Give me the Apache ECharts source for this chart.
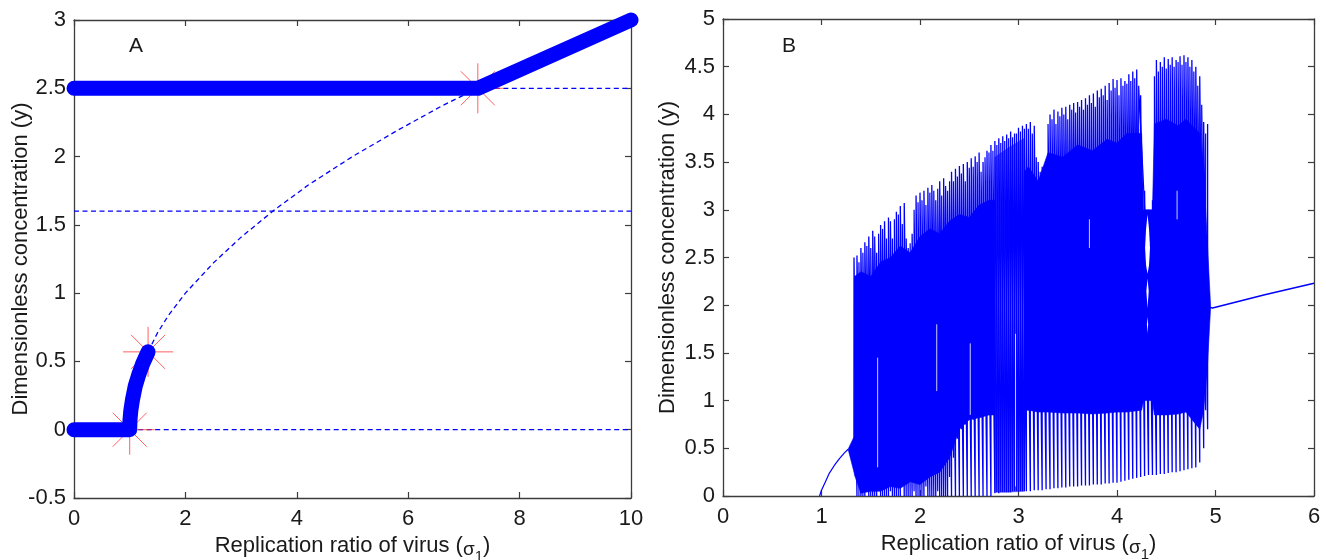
<!DOCTYPE html>
<html><head><meta charset="utf-8">
<script src="https://cdn.jsdelivr.net/npm/echarts@6/dist/echarts.min.js"></script>
<style>html,body{margin:0;padding:0;background:#fff}#c{width:1326px;height:560px}</style>
</head><body><div id="c"></div>
<script>
// ================= Panel A data =================
const aXTicks = [0, 2, 4, 6, 8, 10];
const aXLabels = ['0', '2', '4', '6', '8', '10'];
const aYTicks = [-0.5, 0, 0.5, 1, 1.5, 2, 2.5, 3];
const aYLabels = ['-0.5', '0', '0.5', '1', '1.5', '2', '2.5', '3'];
// stable branch (thick): zero branch then rising branch
const aLowX = [0, 1.0, 1.005, 1.02, 1.05, 1.1, 1.16, 1.23, 1.33];
const aLowY = [0, 0, 0.07, 0.14, 0.22, 0.32, 0.40, 0.48, 0.57];
// stable high branch (thick)
const aHighX = [0, 7.25, 10];
const aHighY = [2.5, 2.5, 3.0];
// unstable branches (dashed)
const aDashZeroX = [1.0, 10];
const aDashZeroY = [0, 0];
const aDashMidX = [0, 10];
const aDashMidY = [1.6, 1.6];
const aDashHighX = [7.25, 10];
const aDashHighY = [2.5, 2.5];
const aCurveX = [1.33, 1.5, 1.7, 2.0, 2.5, 3.0, 3.6, 4.2, 5.0, 5.8, 6.6, 7.25];
const aCurveY = [0.57, 0.71, 0.84, 1.0, 1.22, 1.41, 1.61, 1.79, 2.0, 2.19, 2.37, 2.5];
// bifurcation points (red asterisks)
const aStarX = [1.0, 1.33, 7.25];
const aStarY = [0, 0.57, 2.5];

// ================= Panel B data =================
const bXTicks = [0, 1, 2, 3, 4, 5, 6];
const bXLabels = ['0', '1', '2', '3', '4', '5', '6'];
const bYTicks = [0, 0.5, 1, 1.5, 2, 2.5, 3, 3.5, 4, 4.5, 5];
const bYLabels = ['0', '0.5', '1', '1.5', '2', '2.5', '3', '3.5', '4', '4.5', '5'];
const bPreX = [0.98, 1.0, 1.04, 1.08, 1.13, 1.18, 1.23, 1.27];
const bPreY = [0, 0.06, 0.15, 0.24, 0.32, 0.39, 0.45, 0.49];
const bPostX = [4.93, 4.97, 5.5, 6.0];
const bPostY = [1.98, 1.97, 2.11, 2.23];
// oscillation spikes, outer layer: position, maximum, minimum
const bSpikeX = [1.33, 1.36, 1.40, 1.44, 1.48, 1.52, 1.56, 1.60, 1.64, 1.68, 1.72, 1.76, 1.80, 1.84, 1.88, 1.92, 1.96,
  2.00, 2.04, 2.08, 2.12, 2.16, 2.20, 2.24, 2.28, 2.32, 2.36, 2.40, 2.44, 2.48, 2.52, 2.56, 2.60, 2.64, 2.68, 2.72,
  2.76, 2.80, 2.84, 2.88, 2.92, 2.96, 3.00, 3.04, 3.08, 3.12, 3.16, 3.20, 3.24, 3.28, 3.32, 3.36, 3.40, 3.44, 3.48,
  3.52, 3.56, 3.60, 3.64, 3.68, 3.72, 3.76, 3.80, 3.84, 3.88, 3.92, 3.96, 4.00, 4.04, 4.08, 4.12, 4.16, 4.20, 4.24,
  4.28, 4.32, 4.36, 4.40, 4.44, 4.48, 4.52, 4.56, 4.60, 4.64, 4.68, 4.72, 4.76, 4.80, 4.84, 4.88, 4.92];
const bSpikeHi = [2.50, 2.52, 2.60, 2.66, 2.72, 2.78, 2.55, 2.84, 2.88, 2.92, 2.70, 2.98, 3.04, 3.07, 2.60, 2.75, 3.15,
  3.18, 3.20, 3.23, 3.26, 3.10, 3.30, 3.33, 3.20, 3.40, 3.43, 3.46, 3.48, 3.50, 3.54, 3.56, 3.60, 3.50, 3.62, 3.68,
  3.72, 3.75, 3.77, 3.79, 3.82, 3.80, 3.86, 3.88, 3.90, 3.92, 3.88, 3.50, 3.45, 3.30, 4.00, 4.05, 4.03, 4.07, 4.08,
  4.10, 4.12, 4.13, 4.15, 4.17, 4.20, 4.22, 4.25, 4.27, 4.30, 4.33, 4.37, 4.36, 4.38, 4.35, 4.42, 4.45, 4.47, 4.20,
  3.20, 3.00, 3.10, 4.57, 4.55, 4.60, 4.58, 4.60, 4.57, 4.61, 4.62, 4.60, 4.57, 4.50, 4.40, 3.92, 3.90];
const bSpikeLo = [0.60, 0.00, 0.00, 0.00, 0.00, 0.00, 0.00, 0.00, 0.00, 0.00, 0.00, 0.00, 0.00, 0.00, 0.00, 0.00, 0.00,
  0.00, 0.00, 0.00, 0.00, 0.00, 0.00, 0.00, 0.00, 0.00, 0.00, 0.00, 0.00, 0.00, 0.00, 0.00, 0.00, 0.00, 0.00, 0.00,
  0.03, 0.03, 0.04, 0.04, 0.04, 0.05, 0.05, 0.05, 0.05, 0.05, 0.06, 0.06, 0.06, 0.07, 0.07, 0.08, 0.08, 0.09, 0.09,
  0.10, 0.10, 0.10, 0.11, 0.11, 0.11, 0.12, 0.12, 0.12, 0.13, 0.13, 0.14, 0.14, 0.15, 0.16, 0.17, 0.18, 0.19, 0.20,
  0.21, 0.22, 0.22, 0.22, 0.23, 0.23, 0.24, 0.25, 0.25, 0.26, 0.27, 0.28, 0.29, 0.30, 0.35, 0.50, 0.70];
// oscillation spikes, inner layer
const bSpike2X = [1.38, 1.42, 1.46, 1.50, 1.54, 1.58, 1.62, 1.66, 1.70, 1.74, 1.78, 1.82, 1.86, 1.90, 1.94, 1.98,
  2.02, 2.06, 2.10, 2.14, 2.18, 2.22, 2.26, 2.30, 2.34, 2.38, 2.42, 2.46, 2.50, 2.54, 2.58, 2.62, 2.66, 2.70, 2.74,
  2.78, 2.82, 2.86, 2.90, 2.94, 2.98, 3.02, 3.06, 3.10, 3.14, 3.18, 3.22, 3.26, 3.30, 3.34, 3.38, 3.42, 3.46, 3.50,
  3.54, 3.58, 3.62, 3.66, 3.70, 3.74, 3.78, 3.82, 3.86, 3.90, 3.94, 3.98, 4.02, 4.06, 4.10, 4.14, 4.18, 4.22,
  4.38, 4.42, 4.46, 4.50, 4.54, 4.58, 4.62, 4.66, 4.70, 4.74, 4.78, 4.82, 4.86, 4.90];
const bSpike2Hi = [2.45, 2.55, 2.62, 2.60, 2.72, 2.75, 2.80, 2.70, 2.88, 2.90, 2.95, 2.85, 2.70, 2.65, 3.00, 3.08,
  3.10, 3.05, 3.18, 3.20, 3.22, 3.15, 3.25, 3.30, 3.30, 3.35, 3.38, 3.30, 3.44, 3.45, 3.50, 3.40, 3.55, 3.60, 3.62,
  3.68, 3.70, 3.72, 3.75, 3.76, 3.80, 3.82, 3.85, 3.85, 3.80, 3.55, 3.40, 3.45, 3.90, 3.95, 3.90, 3.98, 4.00, 3.95,
  4.05, 4.02, 4.08, 4.05, 4.10, 4.12, 4.08, 4.18, 4.20, 4.15, 4.25, 4.28, 4.20, 4.30, 4.32, 4.35, 4.38, 4.30,
  4.40, 4.45, 4.50, 4.48, 4.52, 4.50, 4.55, 4.52, 4.55, 4.50, 4.45, 4.30, 4.10, 3.80];
const bSpike2Lo = [0.00, 0.00, 0.05, 0.00, 0.00, 0.10, 0.00, 0.00, 0.05, 0.00, 0.00, 0.10, 0.00, 0.00, 0.05, 0.00,
  0.00, 0.10, 0.00, 0.00, 0.05, 0.00, 0.00, 0.20, 0.40, 0.60, 0.70, 0.75, 0.80, 0.80, 0.82, 0.82, 0.85, 0.85, 0.85,
  0.04, 0.04, 0.04, 0.04, 0.05, 0.05, 0.05, 0.05, 0.90, 0.90, 0.90, 0.90, 0.90, 0.90, 0.90, 0.90, 0.90, 0.90, 0.90,
  0.90, 0.90, 0.90, 0.90, 0.90, 0.90, 0.90, 0.90, 0.90, 0.90, 0.90, 0.90, 0.90, 0.90, 0.90, 0.90, 0.90, 0.90,
  0.90, 0.90, 0.90, 0.90, 0.90, 0.90, 0.90, 0.90, 0.90, 0.90, 0.90, 0.90, 0.90, 0.90];
// dense cores of the oscillation band (envelope: position, top, bottom)
const bCore1X = [1.27, 1.33, 1.335, 1.40, 1.50, 1.60, 1.70, 1.80, 1.90, 2.00, 2.10, 2.20, 2.30, 2.40, 2.50, 2.60, 2.70, 2.76];
const bCore1Top = [0.49, 0.62, 2.30, 2.35, 2.30, 2.45, 2.50, 2.62, 2.55, 2.72, 2.80, 2.75, 2.88, 2.95, 2.92, 3.05, 3.10, 3.10];
const bCore1Bot = [0.49, 0.25, 0.22, 0.03, 0.05, 0.05, 0.10, 0.08, 0.15, 0.12, 0.20, 0.25, 0.40, 0.70, 0.80, 0.82, 0.85, 0.85];
const bCore2X = [2.76, 2.90, 3.06];
const bCore2Top = [3.55, 3.65, 3.75];
const bCore2Bot = [0.04, 0.04, 0.05];
const bCore3X = [3.06, 3.10, 3.20, 3.30, 3.45, 3.60, 3.75, 3.90, 4.00, 4.10, 4.25, 4.27, 4.36, 4.38, 4.50, 4.62, 4.70, 4.84, 4.88, 4.92, 4.95];
const bCore3Top = [3.40, 3.45, 3.30, 3.60, 3.55, 3.68, 3.62, 3.74, 3.70, 3.80, 3.80, 3.00, 3.00, 3.90, 3.95, 3.88, 3.95, 3.80, 3.40, 2.60, 2.00];
const bCore3Bot = [0.90, 0.90, 0.88, 0.88, 0.87, 0.87, 0.86, 0.87, 0.88, 0.88, 0.90, 1.00, 1.00, 0.85, 0.85, 0.86, 0.88, 0.70, 0.90, 1.40, 1.97];
// white openings inside the band
const bLens1 = [[4.31, 2.95], [4.325, 2.8], [4.335, 2.6], [4.325, 2.42], [4.31, 2.33], [4.295, 2.42], [4.285, 2.6], [4.295, 2.8]];
const bLens2 = [[4.31, 2.28], [4.322, 2.15], [4.31, 1.97], [4.298, 2.15]];
const bLens3 = [[4.31, 1.88], [4.316, 1.8], [4.31, 1.7], [4.304, 1.8]];
// thin white streaks inside the band: position, top, bottom
const bGapX = [1.57, 2.17, 2.51, 2.97, 3.72, 4.61];
const bGapTop = [1.45, 1.80, 1.60, 1.70, 2.90, 3.20];
const bGapBot = [0.30, 1.10, 0.85, 0.10, 2.60, 2.90];

// ================= chart =================
const FONT = 'Liberation Sans, Arial, sans-serif';
const TXT = '#1a1a1a';
const FRAME = '#3c3c3c';
const BLUE = '#0000ff';

const zip = (X, Y) => X.map((x, i) => [x, Y[i]]);
const lookup = (ticks, labels) => v => { const i = ticks.findIndex(t => Math.abs(t - v) < 1e-9); return i >= 0 ? labels[i] : ''; };

const nameRich = {
  a: { fontSize: 22, fontFamily: FONT, color: TXT, lineHeight: 24, verticalAlign: 'top' },
  g: { fontSize: 19, fontFamily: FONT, color: TXT, lineHeight: 24, verticalAlign: 'middle' },
  s: { fontSize: 15, fontFamily: FONT, color: TXT, lineHeight: 29, verticalAlign: 'bottom' }
};

function xAxis(gi, min, max, interval, pos, ticks, labels) {
  const bottom = pos === 'bottom';
  return {
    type: 'value', gridIndex: gi, min, max, interval, position: pos,
    name: bottom ? '{a|Replication ratio of virus (}{g|σ}{s|1}{a|)}' : '',
    nameLocation: 'middle', nameGap: 37, nameMoveOverlap: false, nameTextStyle: { rich: nameRich },
    axisLine: { show: true, onZero: false, lineStyle: { color: FRAME, width: 1.3 } },
    axisTick: { show: true, inside: true, length: 6, lineStyle: { color: FRAME, width: 1.2 } },
    axisLabel: { show: bottom, margin: 10, fontSize: 22, fontFamily: FONT, color: TXT,
      showMinLabel: true, showMaxLabel: true, formatter: lookup(ticks, labels) },
    splitLine: { show: false }
  };
}
function yAxis(gi, min, max, interval, pos, ticks, labels, gap) {
  const left = pos === 'left';
  return {
    type: 'value', gridIndex: gi, min, max, interval, position: pos,
    name: left ? 'Dimensionless concentration (y)' : '',
    nameLocation: 'middle', nameGap: gap, nameMoveOverlap: false,
    nameTextStyle: { fontSize: 22, fontFamily: FONT, color: TXT },
    axisLine: { show: true, onZero: false, lineStyle: { color: FRAME, width: 1.3 } },
    axisTick: { show: true, inside: true, length: 6, lineStyle: { color: FRAME, width: 1.2 } },
    axisLabel: { show: left, margin: 8, fontSize: 22, fontFamily: FONT, color: TXT,
      showMinLabel: true, showMaxLabel: true, formatter: lookup(ticks, labels) },
    splitLine: { show: false }
  };
}

function lineS(xi, yi, data, style, z) {
  return { type: 'line', xAxisIndex: xi, yAxisIndex: yi, data, symbol: 'none', silent: true,
    clip: false, z, lineStyle: style, animation: false };
}
function polyS(xi, yi, X, T, B, fill, z) {
  return { type: 'custom', xAxisIndex: xi, yAxisIndex: yi, coordinateSystem: 'cartesian2d', silent: true, z,
    data: [[X[0], T[0]]], animation: false,
    renderItem: (params, api) => {
      const pts = [];
      X.forEach((x, i) => pts.push(api.coord([x, T[i]])));
      for (let i = X.length - 1; i >= 0; i--) pts.push(api.coord([X[i], B[i]]));
      return { type: 'polygon', shape: { points: pts }, style: { fill, stroke: fill, lineWidth: 0.6 } };
    } };
}
function ptsS(xi, yi, P, fill, z) {
  return { type: 'custom', xAxisIndex: xi, yAxisIndex: yi, coordinateSystem: 'cartesian2d', silent: true, z,
    data: [P[0]], animation: false,
    renderItem: (params, api) => ({ type: 'polygon', shape: { points: P.map(p => api.coord(p)) }, style: { fill } }) };
}
function segS(xi, yi, X, T, B, color, width, z) {
  return { type: 'custom', xAxisIndex: xi, yAxisIndex: yi, coordinateSystem: 'cartesian2d', silent: true, z,
    data: X.map((x, i) => [x, T[i], B[i]]), animation: false,
    renderItem: (params, api) => {
      const p1 = api.coord([api.value(0), api.value(1)]);
      const p2 = api.coord([api.value(0), api.value(2)]);
      return { type: 'line', shape: { x1: p1[0], y1: p1[1], x2: p2[0], y2: p2[1] }, style: { stroke: color, lineWidth: width } };
    } };
}

// zig-zag paths through the spike extremes
const bZig = [];
bSpikeX.forEach((x, i) => { bZig.push([x, bSpikeLo[i]]); bZig.push([x, bSpikeHi[i]]); });
const bZig2 = [];
bSpike2X.forEach((x, i) => { bZig2.push([x, bSpike2Lo[i]]); bZig2.push([x, bSpike2Hi[i]]); });

const dashStyle = { color: BLUE, width: 1.3, type: [5, 3.5] };
const thickStyle = { color: BLUE, width: 15, cap: 'round', join: 'round' };

const option = {
  animation: false,
  backgroundColor: '#ffffff',
  grid: [
    { left: 74, top: 20, width: 557, height: 478, outerBoundsMode: 'none', containLabel: false, show: false },
    { left: 723, top: 19, width: 591, height: 477, outerBoundsMode: 'none', containLabel: false, show: false }
  ],
  xAxis: [
    xAxis(0, 0, 10, 2, 'bottom', aXTicks, aXLabels),
    xAxis(0, 0, 10, 2, 'top', aXTicks, aXLabels),
    xAxis(1, 0, 6, 1, 'bottom', bXTicks, bXLabels),
    xAxis(1, 0, 6, 1, 'top', bXTicks, bXLabels)
  ],
  yAxis: [
    yAxis(0, -0.5, 3, 0.5, 'left', aYTicks, aYLabels, 42),
    yAxis(0, -0.5, 3, 0.5, 'right', aYTicks, aYLabels, 0),
    yAxis(1, 0, 5, 0.5, 'left', bYTicks, bYLabels, 44),
    yAxis(1, 0, 5, 0.5, 'right', bYTicks, bYLabels, 0)
  ],
  graphic: [
    { type: 'text', left: 129, top: 36, style: { text: 'A', fontSize: 21, fontFamily: FONT, fill: TXT } },
    { type: 'text', left: 782, top: 36, style: { text: 'B', fontSize: 21, fontFamily: FONT, fill: TXT } }
  ],
  series: [
    // ---- A ----
    lineS(0, 0, zip(aDashZeroX, aDashZeroY), dashStyle, 2),
    lineS(0, 0, zip(aDashMidX, aDashMidY), dashStyle, 2),
    lineS(0, 0, zip(aDashHighX, aDashHighY), dashStyle, 2),
    lineS(0, 0, zip(aCurveX, aCurveY), dashStyle, 2),
    { type: 'scatter', xAxisIndex: 0, yAxisIndex: 0, data: zip(aStarX, aStarY), silent: true, z: 3, clip: false,
      symbol: 'path://M0,25L50,25M25,0L25,50M8,8L42,42M42,8L8,42', symbolSize: 50, symbolKeepAspect: true,
      itemStyle: { color: 'transparent', borderColor: '#ff3a3a', borderWidth: 1 } },
    lineS(0, 0, zip(aLowX, aLowY), thickStyle, 4),
    lineS(0, 0, zip(aHighX, aHighY), thickStyle, 4),
    // ---- B ----
    polyS(2, 2, bCore1X, bCore1Top, bCore1Bot, BLUE, 2),
    polyS(2, 2, bCore2X, bCore2Top, bCore2Bot, 'rgba(0,0,255,0.55)', 2),
    polyS(2, 2, bCore3X, bCore3Top, bCore3Bot, BLUE, 2),
    lineS(2, 2, bZig2, { color: BLUE, width: 1.2 }, 3),
    lineS(2, 2, bZig, { color: BLUE, width: 1.3 }, 3),
    lineS(2, 2, zip(bPreX, bPreY), { color: BLUE, width: 1.2 }, 3),
    lineS(2, 2, zip(bPostX, bPostY), { color: BLUE, width: 1.5 }, 3),
    segS(2, 2, bGapX, bGapTop, bGapBot, 'rgba(255,255,255,0.8)', 1, 4),
    ptsS(2, 2, bLens1, '#ffffff', 4),
    ptsS(2, 2, bLens2, '#ffffff', 4),
    ptsS(2, 2, bLens3, '#ffffff', 4)
  ]
};

const chart = echarts.init(document.getElementById('c'), null, { renderer: 'canvas' });
chart.setOption(option);
</script>
</body></html>
